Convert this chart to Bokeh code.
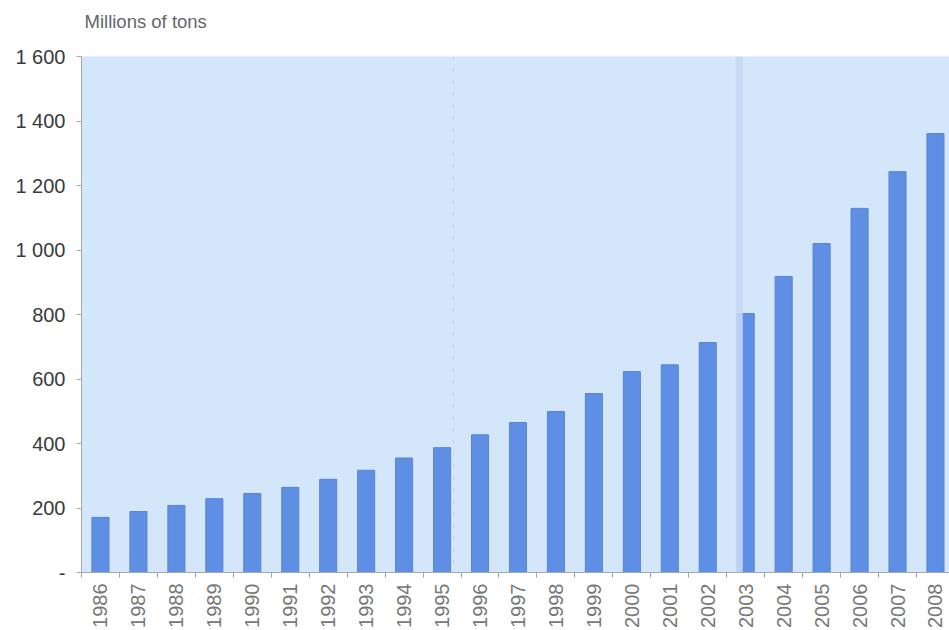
import math
from bokeh.plotting import figure
from bokeh.models import Range1d, FixedTicker, Span, Title, ColumnDataSource
from bokeh.embed import file_html
from bokeh.resources import INLINE

# Annual volume, millions of tons
years = ["1986", "1987", "1988", "1989", "1990", "1991", "1992", "1993",
         "1994", "1995", "1996", "1997", "1998", "1999", "2000", "2001",
         "2002", "2003", "2004", "2005", "2006", "2007", "2008"]
volumes = [171, 189, 208, 229, 245, 264, 289, 317, 355, 387, 427, 465, 499,
           555, 623, 644, 713, 803, 918, 1020, 1129, 1243, 1361]

y_ticks = [0, 200, 400, 600, 800, 1000, 1200, 1400, 1600]
y_tick_labels = ["-", "200", "400", "600", "800", "1 000", "1 200", "1 400", "1 600"]

FONT = "Liberation Sans"

positions = list(range(len(years)))
source = ColumnDataSource(data=dict(x=positions, top=volumes, year=years))

p = figure(width=949, height=630, output_backend="svg", toolbar_location=None,
           x_range=Range1d(-0.5, 22.37), y_range=Range1d(0, 1600),
           min_border_left=81, min_border_right=0, min_border_top=56,
           min_border_bottom=58)

p.background_fill_color = "#d3e6fa"
p.border_fill_color = "white"
p.outline_line_color = None
p.xgrid.visible = False
p.ygrid.visible = False

# blank spacer panel, then the unit caption above it
p.add_layout(Title(text=" ", standoff=10, text_font=FONT, text_font_size="10px"), "above")
p.add_layout(Title(text="Millions of tons", align="left", vertical_align="top",
                   offset=3, standoff=0, text_font=FONT, text_font_size="18.5px",
                   text_font_style="normal", text_color="#636668"), "above")

# faint vertical marks across the plot area
p.add_layout(Span(location=9.3, dimension="height", line_color="#b8cce6",
                  line_width=1, line_dash="3 9", line_alpha=0.8))
p.add_layout(Span(location=16.83, dimension="height", line_color="#c4d8f2",
                  line_width=7, line_alpha=0.9))

p.vbar(x="x", top="top", width=0.45, source=source,
       fill_color="#5f8fe4", line_color="#5a84cf", line_width=1)

# y axis
p.yaxis.ticker = FixedTicker(ticks=y_ticks)
p.yaxis.major_label_overrides = {t: s for t, s in zip(y_ticks, y_tick_labels)}
p.yaxis.minor_tick_line_color = None
p.yaxis.axis_line_color = "#a8a8a8"
p.yaxis.major_tick_line_color = "#a8a8a8"
p.yaxis.major_tick_out = 5
p.yaxis.major_tick_in = 0
p.yaxis.major_label_standoff = 11
p.yaxis.major_label_text_font = FONT
p.yaxis.major_label_text_font_size = "20px"
p.yaxis.major_label_text_color = "#3a3a3a"

# x axis: labels at bar centres, small ticks between bars
p.xaxis.ticker = FixedTicker(ticks=positions,
                             minor_ticks=[i + 0.5 for i in range(-1, len(years))])
p.xaxis.major_label_overrides = {i: y for i, y in enumerate(years)}
p.xaxis.major_label_orientation = math.pi / 2
p.xaxis.major_tick_line_color = None
p.xaxis.minor_tick_line_color = "#a0a0a0"
p.xaxis.minor_tick_out = 5
p.xaxis.minor_tick_in = 0
p.xaxis.axis_line_color = "#a8a8a8"
p.xaxis.major_label_standoff = 5
p.xaxis.major_label_text_font = FONT
p.xaxis.major_label_text_font_size = "20px"
p.xaxis.major_label_text_color = "#777777"

open("out.html", "w").write(file_html(p, INLINE))
